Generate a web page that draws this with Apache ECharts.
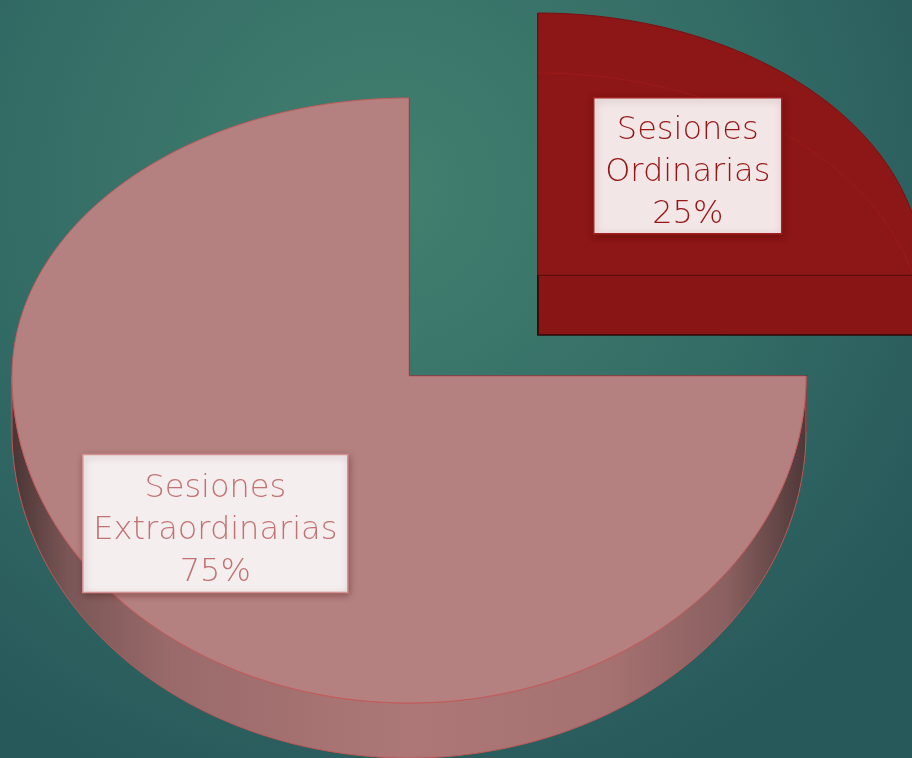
<!DOCTYPE html>
<html>
<head>
<meta charset="utf-8">
<script src="https://cdn.jsdelivr.net/npm/echarts@6/dist/echarts.min.js"></script>
<style>
  html, body { margin: 0; padding: 0; background: #2e6662; }
  #chart { width: 912px; height: 758px; }
</style>
</head>
<body>
<div id="chart"></div>
<script>
// ---- data ----
const categories = ['Sesiones Ordinarias', 'Sesiones Extraordinarias'];
const values = [25, 75];

// ---- layout / style (not data) ----
const geom = [
  { cx: 538, cy: 275, rx: 385, ryTop: 262, ryBot: 300, depth: 60, labelK: 0.55, boxW: 188, boxH: 136, ghost: true },
  { cx: 409, cy: 376, rx: 397, ryTop: 278, ryBot: 327, depth: 55, labelK: 0.69, boxW: 265, boxH: 138, ghost: false }
];
const faceColors = ['#8d1616', '#b48080'];
const faceStroke = ['#7a1010', '#c45c5c'];
const wallColors = ['#891515', '#8a5e5e'];
const wallStroke = ['#2a0808', '#3a2020'];
const labelText = ['#961616', '#c27272'];
const labelBorder = ['#a52020', '#d49090'];
const labelBg = ['#f3e6e7', '#f5eeef'];

const total = values.reduce((a, b) => a + b, 0);

function pt(g, deg, dy) {
  const t = deg * Math.PI / 180;
  const s = Math.sin(t);
  return [g.cx + g.rx * Math.cos(t), g.cy - (s >= 0 ? g.ryTop : g.ryBot) * s + (dy || 0)];
}

function renderItem(params, api) {
  const i = params.dataIndex;
  const v = api.value(0);
  let cum = 0;
  for (let k = 0; k < i; k++) cum += values[k];
  const a0 = 90 - cum / total * 360;
  const a1 = a0 - v / total * 360;
  const g = geom[i];
  const children = [];
  const vtx = [g.cx, g.cy];

  // radial cut walls
  [a0, a1].forEach(function (e) {
    const p = pt(g, e, 0);
    const pb = pt(g, e, g.depth);
    children.push({
      type: 'polygon',
      shape: { points: [vtx, p, pb, [g.cx, g.cy + g.depth]] },
      style: { fill: wallColors[i], stroke: wallStroke[i], lineWidth: 1.5 }
    });
  });

  // outer rim side (visible lower half)
  const topPts = [], botPts = [];
  for (let d = a0; d >= a1 - 1e-6; d -= 1) {
    const s = Math.sin(d * Math.PI / 180);
    if (s <= 1e-9) {
      topPts.push(pt(g, d, 0));
      botPts.push(pt(g, d, g.depth));
    }
  }
  if (topPts.length > 1) {
    children.push({
      type: 'polygon',
      shape: { points: topPts.concat(botPts.reverse()) },
      style: {
        fill: new echarts.graphic.LinearGradient(0, 0, 1, 0, [
          { offset: 0, color: '#4a3434' },
          { offset: 0.07, color: '#7a5656' },
          { offset: 0.2, color: '#9a6a6a' },
          { offset: 0.5, color: '#ad7777' },
          { offset: 0.75, color: '#a67171' },
          { offset: 0.9, color: '#8a6060' },
          { offset: 1, color: '#4f3838' }
        ]),
        stroke: '#c05858', lineWidth: 1
      }
    });
  }

  // top face
  const face = [vtx];
  for (let d = a0; d >= a1 - 1e-6; d -= 1) face.push(pt(g, d, 0));
  face.push(pt(g, a1, 0));
  children.push({
    type: 'polygon',
    shape: { points: face },
    style: { fill: faceColors[i], stroke: faceStroke[i], lineWidth: 1 }
  });

  // faint see-through back edge of the bottom face
  if (g.ghost) {
    const ghost = [];
    for (let d = a0; d >= a1 - 1e-6; d -= 1) ghost.push(pt(g, d, g.depth));
    children.push({
      type: 'polyline',
      shape: { points: ghost },
      style: { stroke: 'rgba(170,30,30,0.55)', lineWidth: 1, fill: null }
    });
  }

  // label box + text
  const mid = (a0 + a1) / 2 * Math.PI / 180;
  const ryAvg = (g.ryTop + g.ryBot) / 2;
  const lx = g.cx + g.rx * g.labelK * Math.cos(mid);
  const ly = g.cy - ryAvg * g.labelK * Math.sin(mid);
  const parts = categories[i].split(' ');
  const pct = Math.round(v / total * 100) + '%';
  children.push({
    type: 'rect',
    shape: { x: lx - g.boxW / 2, y: ly - g.boxH / 2, width: g.boxW, height: g.boxH },
    style: {
      fill: labelBg[i],
      stroke: labelBorder[i],
      lineWidth: 1.5,
      shadowBlur: 7,
      shadowColor: 'rgba(60,0,0,0.35)',
      shadowOffsetX: 1,
      shadowOffsetY: 2
    }
  });
  children.push({
    type: 'text',
    x: lx, y: ly + 7,
    style: {
      text: parts[0] + '\n' + parts.slice(1).join(' ') + '\n' + pct,
      fill: labelText[i],
      fontFamily: 'DejaVu Sans',
      fontWeight: 200,
      fontSize: 32,
      lineHeight: 42,
      align: 'center',
      verticalAlign: 'middle'
    }
  });

  return { type: 'group', children: children };
}

const chart = echarts.init(document.getElementById('chart'), null, { renderer: 'canvas' });
chart.setOption({
  animation: false,
  backgroundColor: new echarts.graphic.RadialGradient(0.42, 0.25, 0.85, [
    { offset: 0, color: '#42806f' },
    { offset: 0.55, color: '#346d66' },
    { offset: 1, color: '#27585a' }
  ]),
  series: [{
    type: 'custom',
    coordinateSystem: 'none',
    renderItem: renderItem,
    data: values.map(function (v, i) { return { value: [v], name: categories[i] }; })
  }]
});
</script>
</body>
</html>
